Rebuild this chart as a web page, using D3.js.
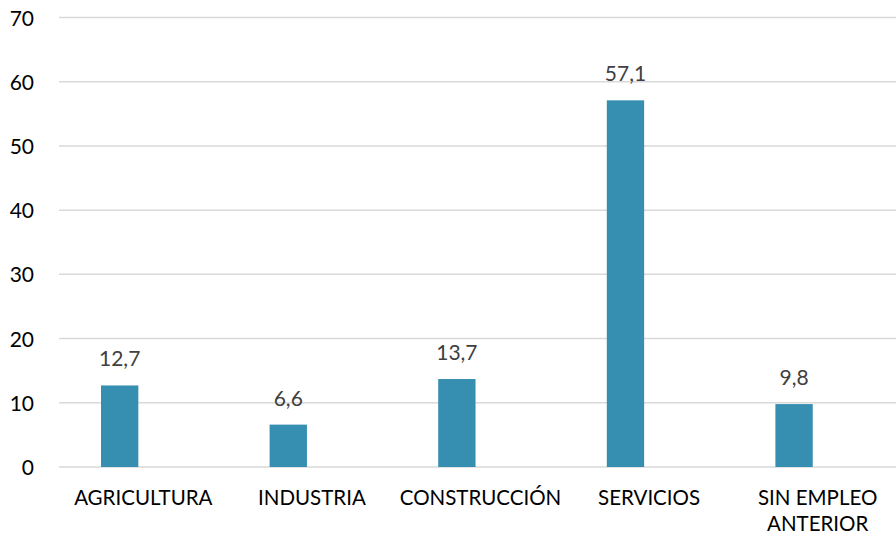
<!DOCTYPE html>
<html lang="es">
    <head>
        <meta charset="utf-8">
        <title>Paro por sector</title>
        <script type="text/javascript" src="https://d3js.org/d3.v7.min.js"></script>
        <style type="text/css">
            body { margin: 0; background: #fff; }
            text { font-family: Lato, "Open Sans", sans-serif; }
        </style>
    </head>
    <body>
        <script type="text/javascript">
            // datos
            var categorias = ["AGRICULTURA", "INDUSTRIA", "CONSTRUCCIÓN", "SERVICIOS", "SIN EMPLEO ANTERIOR"];
            var series = ["Serie 1", "Serie 2"]; // la segunda serie esta vacia
            var valores = [12.7, 6.6, 13.7, 57.1, 9.8];
            var ticksY = [0, 10, 20, 30, 40, 50, 60, 70];

            var w = 896;
            var h = 535;

            var svg = d3.select("body")
                        .append("svg")
                        .attr("width", w)
                        .attr("height", h);

            var x = d3.scaleBand()
                      .domain(categorias)
                      .range([59, 902]);

            // posicion de la barra dentro de cada grupo
            var x1 = d3.scaleBand()
                       .domain(series)
                       .range([-42.3, 42.3])
                       .paddingInner(0.21);

            var y = d3.scaleLinear()
                      .domain([0, 70])
                      .range([467, 17.5]);

            // lineas de cuadricula
            svg.append("g")
                .selectAll("line")
                .data(ticksY)
                .enter()
                .append("line")
                .attr("x1", 59)
                .attr("x2", w)
                .attr("y1", function(d){ return y(d); })
                .attr("y2", function(d){ return y(d); })
                .attr("stroke", "#d9d9d9")
                .attr("stroke-width", 1.5);

            // etiquetas del eje Y
            svg.append("g")
                .selectAll("text")
                .data(ticksY)
                .enter()
                .append("text")
                .text(function(d){ return d; })
                .attr("x", 34)
                .attr("y", function(d){ return y(d) + 8; })
                .attr("text-anchor", "end")
                .attr("font-size", "21px")
                .attr("fill", "#000");

            // barras
            svg.append("g")
                .selectAll("rect")
                .data(valores)
                .enter()
                .append("rect")
                .attr("x", function(d, i){
                    return x(categorias[i]) + x.bandwidth() / 2 + x1(series[0]);
                })
                .attr("y", function(d){ return y(d); })
                .attr("width", x1.bandwidth())
                .attr("height", function(d){ return y(0) - y(d); })
                .attr("fill", "#368fb0");

            // etiquetas de valores
            svg.append("g")
                .selectAll("text")
                .data(valores)
                .enter()
                .append("text")
                .text(function(d){ return String(d).replace(".", ","); })
                .attr("x", function(d, i){
                    return x(categorias[i]) + x.bandwidth() / 2 + x1(series[0]) + x1.bandwidth() / 2;
                })
                .attr("y", function(d){ return y(d) - 19; })
                .attr("text-anchor", "middle")
                .attr("font-size", "21px")
                .attr("fill", "#404040");

            // etiquetas de categorias (con salto de linea)
            var lineas = { "SIN EMPLEO ANTERIOR": ["SIN EMPLEO", "ANTERIOR"] };

            svg.append("g")
                .selectAll("text")
                .data(categorias)
                .enter()
                .append("text")
                .attr("text-anchor", "middle")
                .attr("font-size", "20.5px")
                .attr("fill", "#000")
                .each(function(d){
                    var partes = lineas[d] || [d];
                    var t = d3.select(this);
                    partes.forEach(function(p, k){
                        t.append("tspan")
                         .attr("x", x(d) + x.bandwidth() / 2)
                         .attr("y", 505 + k * 26)
                         .text(p);
                    });
                });
        </script>
    </body>
</html>
